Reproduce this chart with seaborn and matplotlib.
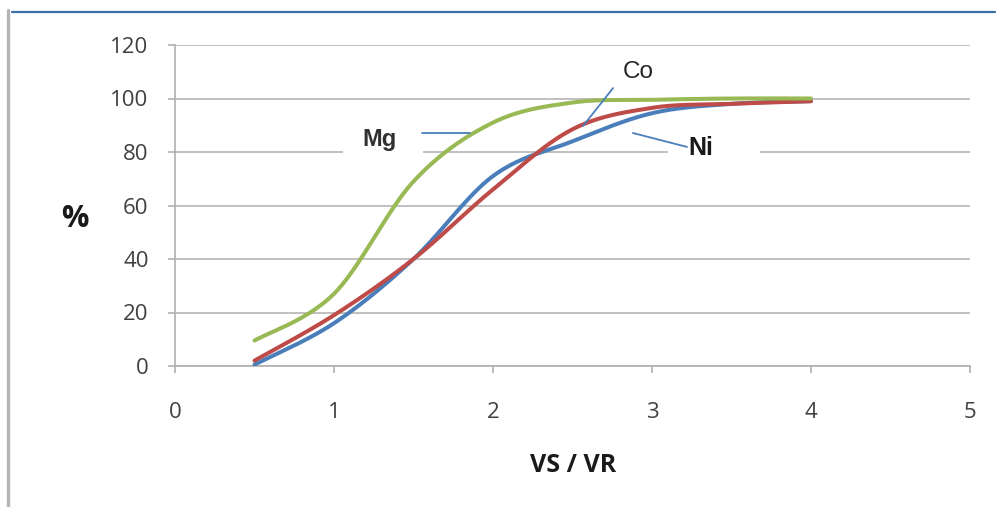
import numpy as np
import matplotlib
matplotlib.use("Agg")
import matplotlib.pyplot as plt
import seaborn as sns
from matplotlib.lines import Line2D
from matplotlib.patches import Rectangle

# ---- data ----
vs_vr = [0.5, 1.0, 1.5, 2.0, 2.5, 3.0, 3.5, 4.0]
mg = [9.5, 27, 69, 91, 98.5, 99.5, 100, 100]
ni = [0.5, 16, 40, 71, 84, 94.5, 98, 99]
co = [2, 19, 40, 66, 88.5, 96.5, 98, 99]
x_ticks = [0, 1, 2, 3, 4, 5]
y_ticks = [0, 20, 40, 60, 80, 100, 120]
series_names = ["Mg", "Co", "Ni"]

C_BLUE = "#4a7ebb"
C_RED = "#be4b48"
C_GREEN = "#98b954"


def smooth(xs, ys, n=40):
    """Excel-style smoothed line (uniform Catmull-Rom through the points)."""
    P = np.column_stack([xs, ys]).astype(float)
    P = np.vstack([P[0], P, P[-1]])
    out = []
    for i in range(1, len(P) - 2):
        p0, p1, p2, p3 = P[i - 1], P[i], P[i + 1], P[i + 2]
        t = np.linspace(0, 1, n, endpoint=(i == len(P) - 3))[:, None]
        pts = 0.5 * (2 * p1 + (-p0 + p2) * t + (2 * p0 - 5 * p1 + 4 * p2 - p3) * t ** 2
                     + (-p0 + 3 * p1 - 3 * p2 + p3) * t ** 3)
        out.append(pts)
    out = np.vstack(out)
    return out[:, 0], out[:, 1]


sns.set_theme(style="white")
plt.rcParams["font.family"] = ["Open Sans", "DejaVu Sans"]

fig = plt.figure(figsize=(9.96, 5.07), dpi=100)
ax = fig.add_axes([175 / 996, 141 / 507, 795 / 996, 321 / 507])

ax.set_xlim(0, 5)
ax.set_ylim(0, 120)
ax.set_xticks(x_ticks)
ax.set_yticks(y_ticks)
ax.yaxis.grid(True, color="#c0c0c0", linewidth=1.4, zorder=0)
ax.set_axisbelow(True)

for s in ["top", "right"]:
    ax.spines[s].set_visible(False)
for s in ["left", "bottom"]:
    ax.spines[s].set_color("#b0b0b0")
    ax.spines[s].set_linewidth(1.2)

ax.tick_params(axis="both", which="both", direction="out", length=5, width=1.2,
               color="#b0b0b0", labelcolor="#404040", labelsize=16)
ax.tick_params(axis="x", pad=21, bottom=True)
ax.tick_params(axis="y", pad=14, left=True)

# white label boxes that interrupt the grid
ax.add_patch(Rectangle((1.057, 75), 0.50, 17, facecolor="white", edgecolor="none", zorder=1.5))
ax.add_patch(Rectangle((3.10, 75), 0.58, 14, facecolor="white", edgecolor="none", zorder=1.5))

for ys, col in [(ni, C_BLUE), (co, C_RED), (mg, C_GREEN)]:
    sx, sy = smooth(vs_vr, ys)
    sns.lineplot(x=sx, y=sy, ax=ax, color=col, linewidth=2.9, sort=False,
                 estimator=None, zorder=3)

# leader lines
ax.plot([1.553, 1.855], [87.1, 87.1], color=C_BLUE, lw=1.3, zorder=4)
ax.plot([2.755, 2.566], [103.9, 89.7], color=C_BLUE, lw=1.3, zorder=4)
ax.plot([2.88, 3.22], [87.1, 81.9], color=C_BLUE, lw=1.3, zorder=4)

lab_font = ["Liberation Sans", "DejaVu Sans"]
ax.text(1.289, 84.5, series_names[0], fontsize=17, fontweight="bold", family=lab_font,
        color="#303030", ha="center", va="center", zorder=5)
ax.text(2.912, 109.9, series_names[1], fontsize=17.5, family=lab_font,
        color="#262626", ha="center", va="center", zorder=5)
ax.text(3.31, 81.5, series_names[2], fontsize=18, fontweight="bold", family=lab_font,
        color="#1a1a1a", ha="center", va="center", zorder=5)

ax.set_xlabel("")
ax.set_ylabel("")
fig.text(75 / 996, 1 - 219 / 507, "%", fontsize=22, fontweight="bold", color="#1a1a1a",
         ha="center", va="center")
fig.text(573 / 996, 1 - 465 / 507, "VS / VR", fontsize=18, fontweight="bold", color="#1a1a1a",
         ha="center", va="center")

# frame lines of the original screenshot
fig.add_artist(Line2D([12 / 996, 995 / 996], [1 - 12 / 507, 1 - 12 / 507],
                      transform=fig.transFigure, color="#3d6fa8", lw=1.6))
fig.add_artist(Line2D([8 / 996, 8 / 996], [0, 1 - 10 / 507],
                      transform=fig.transFigure, color="#b4b4b4", lw=2.4))

fig.savefig("out.png", dpi=100)
